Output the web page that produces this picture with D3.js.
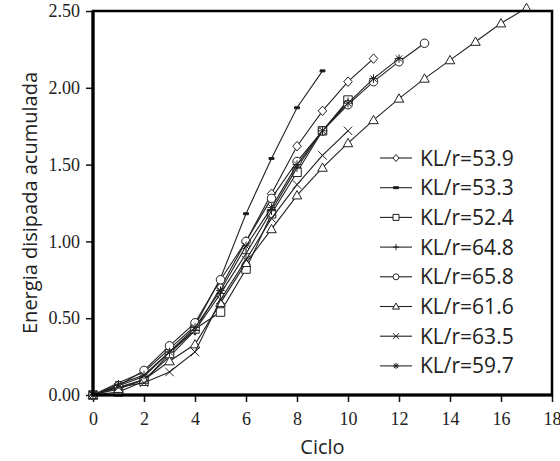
<!DOCTYPE html>
<html>
<head>
<meta charset="utf-8">
<style>
    body{ margin:0; background:#fff; }
    svg{ display:block; }
    .axis text{ font-family:"Liberation Serif","Times New Roman",serif; font-size:18px; fill:#222; }
    .axis .domain{ display:none; }
    .axis line{ stroke:#111; stroke-width:1.5px; }
    .title{ font-family:"Open Sans",sans-serif; font-size:20px; fill:#222; }
    .legend text{ font-family:"Open Sans",sans-serif; font-size:21px; fill:#222; }
    .line{ fill:none; stroke:#222; stroke-width:1.1px; }
    .mark{ stroke:#222; stroke-width:1px; }
</style>
</head>
<body>
<div id="chart"></div>
<script src="https://cdnjs.cloudflare.com/ajax/libs/d3/7.8.5/d3.min.js"></script>
<script>
    // values (cycle 0, 1, 2, ...)
    var kl539 = [0, 0.05, 0.10, 0.25, 0.42, 0.70, 1.00, 1.31, 1.62, 1.85, 2.04, 2.19];
    var kl533 = [0, 0.08, 0.15, 0.30, 0.45, 0.76, 1.18, 1.54, 1.87, 2.11];
    var kl524 = [0, 0.02, 0.09, 0.27, 0.43, 0.54, 0.82, 1.18, 1.45, 1.72, 1.92];
    var kl648 = [0, 0.06, 0.12, 0.28, 0.42, 0.66, 0.92, 1.20, 1.48, 1.72, 1.91];
    var kl658 = [0, 0.06, 0.16, 0.32, 0.47, 0.75, 1.00, 1.28, 1.52, 1.72, 1.89, 2.04, 2.17, 2.29];
    var kl616 = [0, 0.04, 0.10, 0.22, 0.33, 0.60, 0.86, 1.08, 1.30, 1.48, 1.64, 1.79, 1.93, 2.06, 2.18, 2.30, 2.42, 2.52];
    var kl635 = [0, 0.05, 0.08, 0.15, 0.28, 0.62, 0.88, 1.15, 1.37, 1.56, 1.72];
    var kl597 = [0, 0.07, 0.13, 0.28, 0.44, 0.68, 0.97, 1.22, 1.50, 1.72, 1.90, 2.06, 2.19];

    var seriesNames = ["KL/r=53.9", "KL/r=53.3", "KL/r=52.4", "KL/r=64.8", "KL/r=65.8", "KL/r=61.6", "KL/r=63.5", "KL/r=59.7"];
    var seriesValues = [kl539, kl533, kl524, kl648, kl658, kl616, kl635, kl597];
    var markerTypes = ["diamond", "dash", "square", "plus", "circle", "triangle", "x", "asterisk"];

    var xTicks = [0, 2, 4, 6, 8, 10, 12, 14, 16, 18];
    var yTicks = [0, 0.5, 1.0, 1.5, 2.0, 2.5];

    var W = 560, H = 461;
    var pLeft = 93, pRight = 552, pTop = 11, pBottom = 395;

    var x = d3.scaleLinear().domain([0, 18]).range([pLeft, pRight]);
    var y = d3.scaleLinear().domain([0, 2.5]).range([pBottom, pTop]);

    var svg = d3.select("#chart").append("svg")
        .attr("width", W)
        .attr("height", H);

    // marker shapes
    function markerPath(type, s) {
        var h = s / 2;
        switch (type) {
            case "diamond":
                return "M0," + (-h - 0.5) + "L" + h + ",0L0," + (h + 0.5) + "L" + (-h) + ",0Z";
            case "square":
                return "M" + (-h) + "," + (-h) + "h" + s + "v" + s + "h" + (-s) + "Z";
            case "circle":
                return d3.symbol(d3.symbolCircle, Math.PI * h * h)();
            case "triangle":
                return "M0," + (-h - 0.5) + "L" + (h + 0.5) + "," + (h * 0.85) + "L" + (-h - 0.5) + "," + (h * 0.85) + "Z";
            case "plus":
                return "M" + (-h) + ",0H" + h + "M0," + (-h) + "V" + h;
            case "x":
                return "M" + (-h) + "," + (-h) + "L" + h + "," + h + "M" + (-h) + "," + h + "L" + h + "," + (-h);
            case "asterisk":
                return "M" + (-h) + ",0H" + h + "M0," + (-h) + "V" + h +
                    "M" + (-h * 0.75) + "," + (-h * 0.75) + "L" + (h * 0.75) + "," + (h * 0.75) +
                    "M" + (-h * 0.75) + "," + (h * 0.75) + "L" + (h * 0.75) + "," + (-h * 0.75);
            case "dash":
                return "M-2.5,-1h5v2h-5Z";
        }
    }

    function markerFill(type) {
        if (type === "dash") return "#111";
        if (type === "plus" || type === "x" || type === "asterisk") return "none";
        return "#fff";
    }

    // axes
    svg.append("g")
        .attr("class", "axis")
        .attr("transform", "translate(0," + pBottom + ")")
        .call(d3.axisBottom(x).tickValues(xTicks).tickSize(7).tickPadding(10).tickFormat(d3.format("d")));

    svg.append("g")
        .attr("class", "axis")
        .attr("transform", "translate(" + pLeft + ",0)")
        .call(d3.axisLeft(y).tickValues(yTicks).tickSize(7).tickPadding(6).tickFormat(d3.format(".2f")));

    // series
    var line = d3.line()
        .x(function(d, i) { return x(i); })
        .y(function(d) { return y(d); });

    seriesValues.forEach(function(vals, k) {
        var g = svg.append("g");
        g.append("path")
            .attr("class", "line")
            .attr("d", line(vals));
        g.selectAll("path.mark")
            .data(vals)
            .enter().append("path")
            .attr("class", "mark")
            .attr("transform", function(d, i) { return "translate(" + x(i) + "," + y(d) + ")"; })
            .attr("d", markerPath(markerTypes[k], 8.5))
            .attr("fill", markerFill(markerTypes[k]))
            .attr("stroke", markerTypes[k] === "dash" ? "none" : null);
    });

    // frame
    svg.append("rect")
        .attr("x", pLeft)
        .attr("y", pTop)
        .attr("width", pRight - pLeft)
        .attr("height", pBottom - pTop)
        .attr("fill", "none")
        .attr("stroke", "#000")
        .attr("stroke-width", 2.5);

    svg.append("path")
        .attr("d", "M" + pLeft + "," + pTop + "V" + pBottom + "H" + pRight)
        .attr("fill", "none")
        .attr("stroke", "#000")
        .attr("stroke-width", 3.2);

    // legend
    var legend = svg.append("g").attr("class", "legend");
    seriesNames.forEach(function(name, k) {
        var ly = 158 + k * 29.7;
        legend.append("line")
            .attr("x1", 380).attr("x2", 412)
            .attr("y1", ly).attr("y2", ly)
            .attr("stroke", "#222")
            .attr("stroke-width", 1.1);
        legend.append("path")
            .attr("class", "mark")
            .attr("transform", "translate(396," + ly + ")")
            .attr("d", markerPath(markerTypes[k], 6))
            .attr("fill", markerFill(markerTypes[k]))
            .attr("stroke", markerTypes[k] === "dash" ? "none" : null);
        legend.append("text")
            .attr("x", 420)
            .attr("y", ly)
            .attr("dy", "0.36em")
            .text(name);
    });

    // axis titles
    svg.append("text")
        .attr("class", "title")
        .attr("x", (pLeft + pRight) / 2)
        .attr("y", 454)
        .attr("text-anchor", "middle")
        .text("Ciclo");

    svg.append("text")
        .attr("class", "title")
        .attr("transform", "translate(37," + ((pTop + pBottom) / 2) + ") rotate(-90)")
        .attr("text-anchor", "middle")
        .text("Energia disipada acumulada");
</script>
</body>
</html>
